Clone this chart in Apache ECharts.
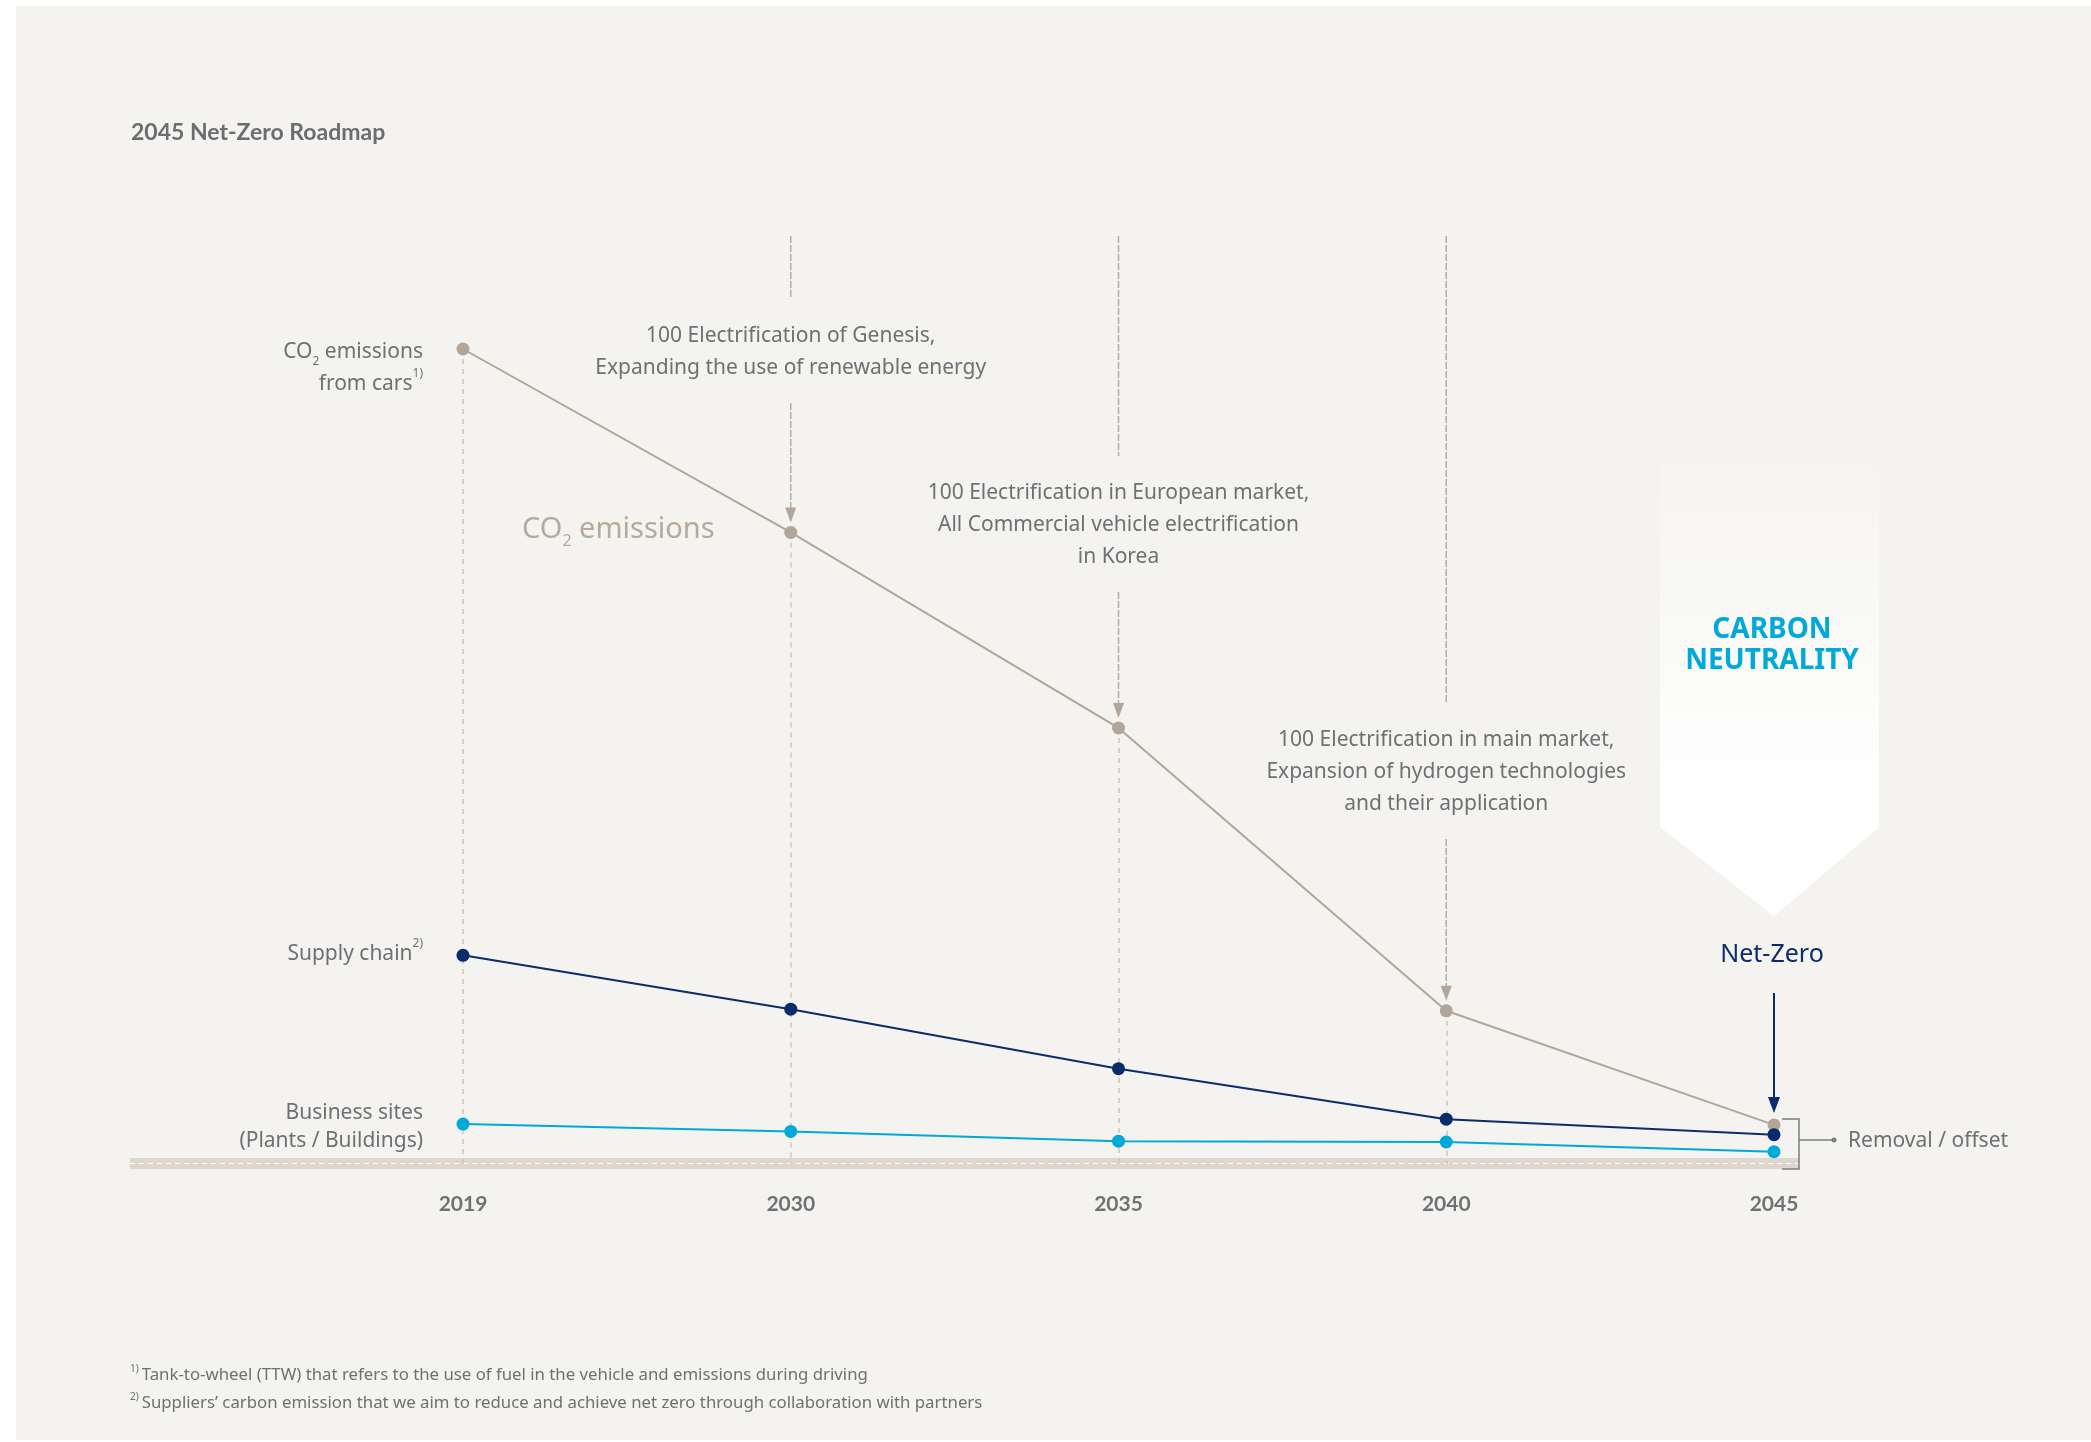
<!DOCTYPE html>
<html>
<head>
<meta charset="utf-8">
<script src="https://cdn.jsdelivr.net/npm/echarts@6/dist/echarts.min.js"></script>
<style>
  html, body { margin: 0; padding: 0; background: #fff; }
  #chart { width: 2091px; height: 1442px; }
</style>
</head>
<body>
<div id="chart"></div>
<script>
  var years = ['2019', '2030', '2035', '2040', '2045'];
  var carEmissions = [100, 77.5, 53.5, 18.8, 4.8];
  var supplyChain = [25.6, 19.0, 11.7, 5.5, 3.6];
  var businessSites = [4.9, 4.0, 2.8, 2.7, 1.5];

  var milestoneYears = ['2030', '2035', '2040'];
  var milestoneTexts = [
    ['100 Electrification of Genesis,', 'Expanding the use of renewable energy'],
    ['100 Electrification in European market,', 'All Commercial vehicle electrification', 'in Korea'],
    ['100 Electrification in main market,', 'Expansion of hydrogen technologies', 'and their application']
  ];
  var milestoneTextY = [336, 493, 740];

  var footnotes = [
    ['1)', 'Tank-to-wheel (TTW) that refers to the use of fuel in the vehicle and emissions during driving'],
    ['2)', 'Suppliers\u2019 carbon emission that we aim to reduce and achieve net zero through collaboration with partners']
  ];

  var yMax = 114;
  var bg = '#f4f3ef';
  var textGray = '#6d7074';
  var tan = '#b1a699';
  var tanLight = '#cfc6bb';
  var navy = '#0a2c6a';
  var cyan = '#00a9d8';
  var font = '"Noto Sans", sans-serif';

  var chart = echarts.init(document.getElementById('chart'));

  // dashed drop lines from each CO2 point down to the baseline (not 2045)
  var dropLines = [];
  for (var i = 0; i < 4; i++) {
    dropLines.push([{ coord: [i, carEmissions[i]] }, { coord: [i, 0] }]);
  }

  function lineSeries(name, data, color, extra) {
    var s = {
      name: name,
      type: 'line',
      data: data,
      symbol: 'circle',
      symbolSize: 13,
      lineStyle: { color: color, width: 2 },
      itemStyle: { color: color },
      z: 5
    };
    return Object.assign(s, extra || {});
  }

  var option = {
    animation: false,
    backgroundColor: '#fff',
    grid: { left: 463, right: 317, top: 1164 - yMax * 8.15, bottom: 278 },
    xAxis: {
      type: 'category',
      data: years,
      boundaryGap: false,
      axisLine: { show: false },
      axisTick: { show: false },
      splitLine: { show: false },
      axisLabel: {
        margin: 30,
        color: '#6f7275',
        fontFamily: 'Lato',
        fontWeight: 'bold',
        fontSize: 21
      }
    },
    yAxis: { type: 'value', min: 0, max: yMax, show: false },
    series: [
      lineSeries('CO2 emissions from cars', carEmissions, tan, {
        markLine: {
          silent: true,
          symbol: ['none', 'none'],
          label: { show: false },
          lineStyle: { color: tanLight, type: [5, 5], width: 1.5 },
          data: dropLines,
          z: 1
        }
      }),
      lineSeries('Supply chain', supplyChain, navy),
      lineSeries('Business sites', businessSites, cyan)
    ]
  };
  chart.setOption(option);

  function px(i, v) {
    return chart.convertToPixel({ gridIndex: 0 }, [i, v]);
  }

  var g = [];
  g.push({ type: 'rect', z: -100, silent: true, shape: { x: 16, y: 6, width: 2075, height: 1434 }, style: { fill: bg } });

  // baseline band
  g.push({ type: 'rect', z: -50, shape: { x: 130, y: 1158, width: 1669, height: 11 }, style: { fill: '#ddd7cf' } });
  g.push({ type: 'line', z: -49, shape: { x1: 130, y1: 1163.5, x2: 1799, y2: 1163.5 }, style: { stroke: '#fff', lineWidth: 1.2, lineDash: [5, 4] } });

  // title
  g.push({ type: 'text', x: 131, y: 133, style: { text: '2045 Net-Zero Roadmap', font: 'bold 23px Lato', fill: '#6b6e71', verticalAlign: 'middle' } });

  // milestone annotations
  milestoneYears.forEach(function (yr, k) {
    var idx = years.indexOf(yr);
    var top = px(idx, yMax);
    var pt = px(idx, carEmissions[idx]);
    var x = pt[0];
    var ty = milestoneTextY[k];
    var lines = milestoneTexts[k];
    var tip = pt[1] - 10;
    g.push({ type: 'line', shape: { x1: x, y1: top[1] + 1, x2: x, y2: ty - 37 }, style: { stroke: '#b5aca2', lineWidth: 1.5, lineDash: [7, 2] } });
    g.push({ type: 'line', shape: { x1: x, y1: ty + (lines.length - 1) * 32 + 35, x2: x, y2: tip - 12 }, style: { stroke: '#b5aca2', lineWidth: 1.5, lineDash: [7, 2] } });
    g.push({ type: 'polygon', shape: { points: [[x - 5.5, tip - 15], [x + 5.5, tip - 15], [x, tip]] }, style: { fill: tan } });
    g.push({ type: 'text', x: x, y: ty - 16, style: { text: lines.join('\n'), font: '21px ' + font, fill: textGray, align: 'center', verticalAlign: 'top', lineHeight: 32 } });
  });

  // carbon neutrality banner
  var p45 = px(4, carEmissions[4]);
  var cx = p45[0] - 2;
  g.push({
    type: 'polygon', z: -40,
    shape: { points: [[1660, 428], [1879, 428], [1879, 827], [p45[0], 916], [1660, 827]] },
    style: {
      fill: new echarts.graphic.LinearGradient(0, 0, 0, 1, [
        { offset: 0, color: bg },
        { offset: 0.75, color: '#ffffff' },
        { offset: 1, color: '#ffffff' }
      ])
    }
  });
  g.push({ type: 'text', x: cx, y: 646, style: { text: 'CARBON\nNEUTRALITY', font: 'bold 28px ' + font, fill: cyan, align: 'center', verticalAlign: 'middle', lineHeight: 31 } });
  g.push({ type: 'text', x: cx, y: 955, style: { text: 'Net-Zero', font: '25px ' + font, fill: navy, align: 'center', verticalAlign: 'middle' } });
  var nTip = p45[1] - 12;
  g.push({ type: 'line', shape: { x1: p45[0], y1: 993, x2: p45[0], y2: nTip - 12 }, style: { stroke: navy, lineWidth: 2 } });
  g.push({ type: 'polygon', shape: { points: [[p45[0] - 6, nTip - 16], [p45[0] + 6, nTip - 16], [p45[0], nTip]] }, style: { fill: navy } });

  // removal / offset bracket
  var bx = p45[0] + 25;
  g.push({ type: 'polyline', shape: { points: [[p45[0] + 8, 1119], [bx, 1119], [bx, 1169], [p45[0] + 8, 1169]] }, style: { stroke: '#7a7d80', lineWidth: 1.5, fill: null } });
  g.push({ type: 'line', shape: { x1: bx, y1: 1140, x2: bx + 35, y2: 1140 }, style: { stroke: '#7a7d80', lineWidth: 1.5 } });
  g.push({ type: 'circle', shape: { cx: bx + 35, cy: 1140, r: 2.5 }, style: { fill: '#7a7d80' } });
  g.push({ type: 'text', x: bx + 49, y: 1141, style: { text: 'Removal / offset', font: '21px ' + font, fill: textGray, verticalAlign: 'middle' } });

  // series labels on the left
  var rich = {
    a: { fontSize: 21, fontFamily: 'Noto Sans', fill: textGray, lineHeight: 32 },
    sub: { fontSize: 12, fontFamily: 'Noto Sans', fill: textGray, lineHeight: 16, verticalAlign: 'bottom' },
    sup: { fontSize: 12, fontFamily: 'Noto Sans', fill: textGray, lineHeight: 18, verticalAlign: 'top' }
  };
  g.push({ type: 'text', x: 423, y: 336, style: { text: '{a|CO}{sub|2}{a| emissions}\n{a|from cars}{sup|1)}', rich: rich, align: 'right', verticalAlign: 'top' } });
  g.push({ type: 'text', x: 423, y: 938, style: { text: '{a|Supply chain}{sup|2)}', rich: rich, align: 'right', verticalAlign: 'top' } });
  g.push({ type: 'text', x: 423, y: 1099, style: { text: 'Business sites\n(Plants / Buildings)', font: '21px ' + font, fill: textGray, align: 'right', verticalAlign: 'top', lineHeight: 28 } });

  // CO2 emissions label in the plot
  g.push({
    type: 'text', x: 522, y: 530,
    style: {
      text: '{a|CO}{sub|2}{a| emissions}', verticalAlign: 'middle',
      rich: {
        a: { fontSize: 29, fontFamily: 'Noto Sans', fill: '#b5aa9d', lineHeight: 38 },
        sub: { fontSize: 16, fontFamily: 'Noto Sans', fill: '#b5aa9d', lineHeight: 20, verticalAlign: 'bottom' }
      }
    }
  });

  // footnotes
  footnotes.forEach(function (f, k) {
    g.push({
      type: 'text', x: 130, y: 1375 + k * 28,
      style: {
        text: '{s|' + f[0] + '}{t|' + f[1] + '}', verticalAlign: 'middle',
        rich: {
          s: { fontSize: 10, fontFamily: 'Noto Sans', fill: textGray, lineHeight: 22, verticalAlign: 'top', padding: [0, 3, 0, 0] },
          t: { fontSize: 16.8, fontFamily: 'Noto Sans', fill: textGray, lineHeight: 22 }
        }
      }
    });
  });

  chart.setOption({ graphic: g });
</script>
</body>
</html>
